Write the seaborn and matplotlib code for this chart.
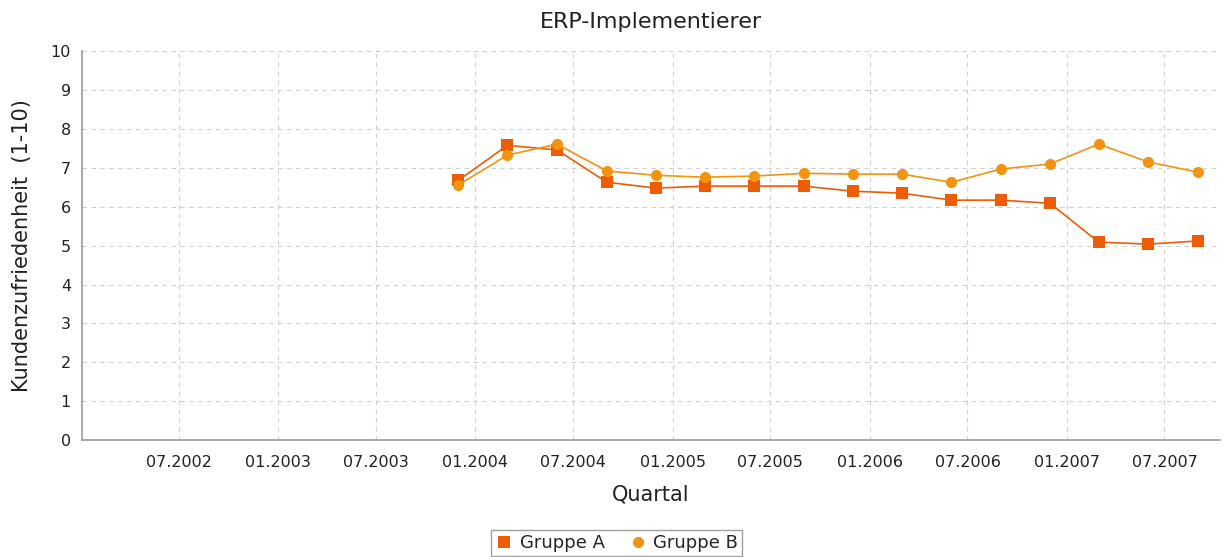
import pandas as pd
import matplotlib
matplotlib.use("Agg")
import matplotlib.pyplot as plt
import matplotlib.dates as mdates
from matplotlib.lines import Line2D
import seaborn as sns

# Quartale (Datum der Messpunkte) und Werte je Gruppe
quartale = ["2003-12-01", "2004-03-01", "2004-06-01", "2004-09-01",
            "2004-12-01", "2005-03-01", "2005-06-01", "2005-09-01",
            "2005-12-01", "2006-03-01", "2006-06-01", "2006-09-01",
            "2006-12-01", "2007-03-01", "2007-06-01", "2007-09-01"]
gruppe_a = [6.68, 7.58, 7.46, 6.63, 6.48, 6.53, 6.53, 6.53,
            6.40, 6.35, 6.17, 6.17, 6.09, 5.09, 5.04, 5.12]
gruppe_b = [6.56, 7.33, 7.61, 6.92, 6.81, 6.76, 6.79, 6.86,
            6.84, 6.84, 6.63, 6.97, 7.10, 7.61, 7.15, 6.89]

farben = {"Gruppe A": "#EC5D05", "Gruppe B": "#F29410"}
marker = {"Gruppe A": "s", "Gruppe B": "o"}

df = pd.DataFrame({
    "Quartal": pd.to_datetime(quartale * 2),
    "Wert": gruppe_a + gruppe_b,
    "Gruppe": ["Gruppe A"] * len(gruppe_a) + ["Gruppe B"] * len(gruppe_b),
})

sns.set_style("white")
plt.rcParams["font.family"] = ["DejaVu Sans"]

fig = plt.figure(figsize=(12.25, 5.57), dpi=100)
ax = fig.add_axes([0.067, 0.210, 0.929, 0.698])

sns.lineplot(data=df, x="Quartal", y="Wert", hue="Gruppe", style="Gruppe",
             markers=marker, dashes=False, palette=farben, ax=ax,
             linewidth=1.2, markersize=8, markeredgewidth=0, legend=False)

ax.set_xlim(pd.Timestamp("2002-01-03"), pd.Timestamp("2007-10-12"))
ax.set_ylim(0, 10)
ax.set_yticks(range(0, 11))
ax.xaxis.set_major_locator(mdates.MonthLocator(bymonth=[1, 7]))
ax.xaxis.set_major_formatter(mdates.DateFormatter("%m.%Y"))

ax.grid(True, color="#d0d0d0", linestyle=(0, (4, 4)), linewidth=0.8)
for s in ["top", "right"]:
    ax.spines[s].set_visible(False)
for s in ["left", "bottom"]:
    ax.spines[s].set_color("#9a9a9a")
    ax.spines[s].set_linewidth(1.2)
ax.tick_params(axis="both", length=4, width=1, color="#9a9a9a",
               labelsize=11.5, labelcolor="#222222", direction="out", pad=7)
ax.tick_params(axis="y", pad=4)

ax.set_title("ERP-Implementierer", fontsize=16, color="#222222",
             y=1.075, va="center", pad=0)
ax.set_xlabel("Quartal", fontsize=15, color="#222222", va="center")
ax.xaxis.set_label_coords(0.5, -0.139)
ax.set_ylabel("Kundenzufriedenheit  (1-10)", fontsize=15, color="#222222", va="center")
ax.yaxis.set_label_coords(-0.053, 0.5)

handles = [Line2D([], [], linestyle="none", marker=marker[g], color=farben[g],
                  markersize=8, markeredgewidth=0) for g in farben]
fig.legend(handles, list(farben), loc="center", bbox_to_anchor=(0.503, 0.025),
           ncol=2, frameon=True, fancybox=False, edgecolor="#888888",
           fontsize=13, handletextpad=0.3, columnspacing=1.3,
           borderpad=0.2, handlelength=1.1)

plt.savefig("out.png", dpi=100)
